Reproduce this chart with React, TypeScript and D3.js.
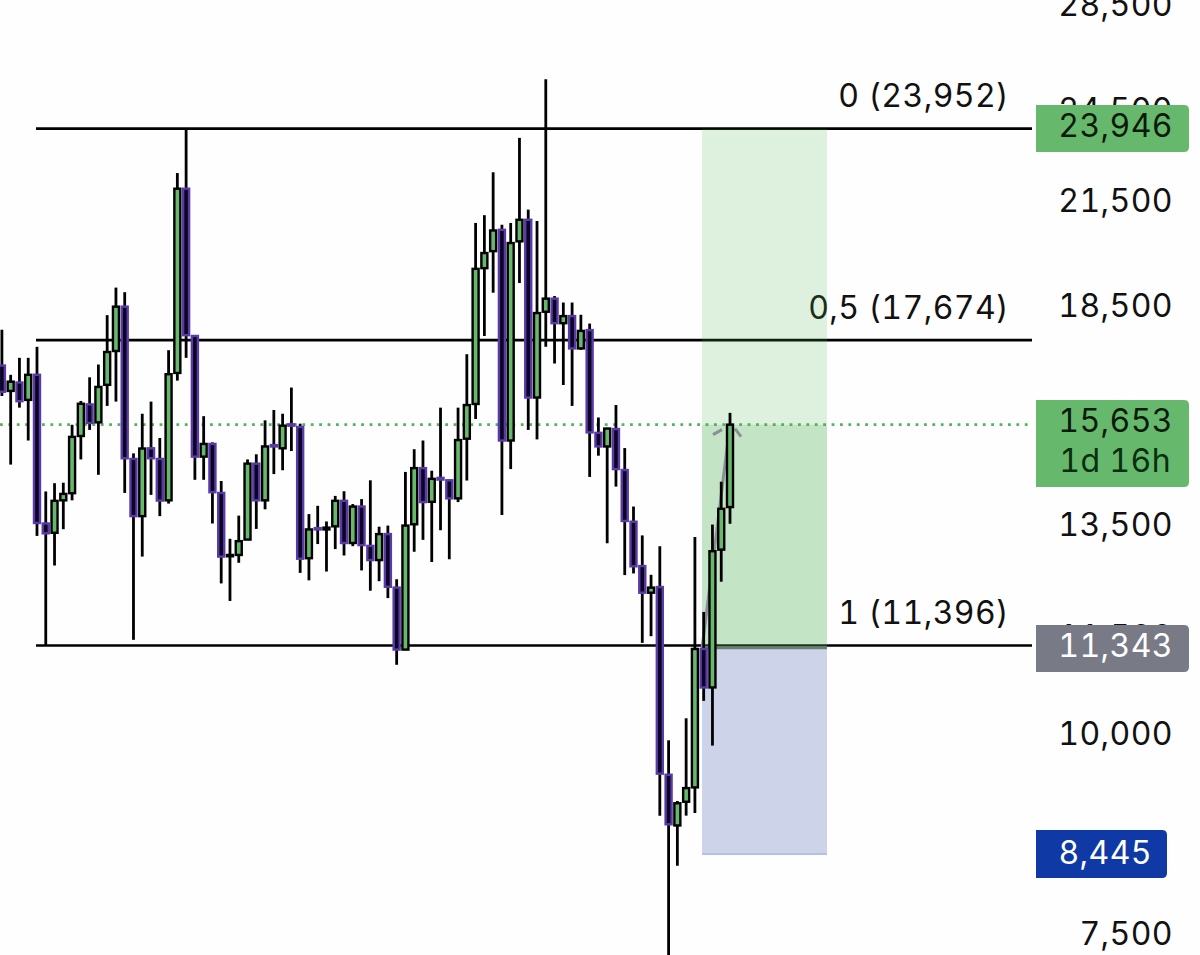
import React from "react";
import * as d3 from "d3";

const highs = [17940,16815,17230,17230,17505,14220,14390,14400,15650,16195,16755,17065,18320,19060,18934,15020,15900,16180,15355,17420,22470,23950,17780,15845,15260,14435,13285,13735,14890,15000,15750,15985,15900,16510,15675,13765,13930,13620,14130,14225,13965,14065,14450,13518,13540,12535,14625,15110,15300,14650,16040,14465,16040,17320,20915,21150,22495,20860,20915,23635,21320,20975,25710,18830,18655,18655,18330,18100,15815,15585,16100,15135,13915,13350,12615,13145,9945,9115,10265,13320,11960,13560,14420,15920];
const bodyTops = [17040,16650,16630,16815,16815,13580,14030,14170,15380,16130,16115,16525,17375,18545,18545,14900,15125,15130,14900,16830,21970,21970,17780,15225,15225,14190,12980,13240,14800,14800,15170,15200,15630,15660,15600,13465,13490,13500,14030,14030,13915,13915,13150,13375,13375,12385,13540,14705,14705,14480,14500,14450,15310,16100,19580,20030,20690,20710,20320,21010,21010,18375,18760,18760,18295,18295,17910,17930,15470,15565,15555,14665,13615,12775,12385,12395,9465,9085,9285,11340,11340,13050,13870,15653];
const bodyBottoms = [16410,16430,16190,16220,13590,13390,13400,14040,14185,15400,15690,15705,16575,17400,14915,13725,13725,14915,14035,14040,16860,17800,14950,14950,14205,12950,12955,12980,13270,14040,14040,15170,15130,15630,12910,12920,13465,13465,13525,13205,13205,13165,12885,12885,12400,11330,11330,13565,14005,14010,14465,14080,14080,15340,16125,19600,20085,15300,15300,20370,16275,16275,18410,18110,18110,17465,17465,15480,15170,15170,14685,13630,12770,12295,12295,9480,8815,8800,9105,9295,10730,10730,13080,13905];
const lows = [16310,14780,16040,15300,13340,11390,12785,13470,14040,14890,15535,14565,16080,16180,14190,11490,12950,14150,13725,13975,16675,17230,14460,14460,13580,12460,12150,12835,13265,13475,13860,14580,14660,15070,12650,12515,13185,12675,13090,12970,13145,12695,12330,12500,12200,11085,11320,13040,13265,12850,13450,12900,14005,14445,15780,17780,18920,13745,14685,19185,15535,15325,17505,17090,16570,16080,17430,14520,14970,13200,14320,12610,12640,11440,11550,8925,7250,8305,8925,8960,10525,9870,12490,13575];
const falling = [
  1,0,1,0,1,1,0,0,0,0,
  1,0,0,0,1,1,0,1,1,0,
  0,1,1,0,1,1,0,0,0,1,
  0,1,0,1,1,0,1,0,0,1,
  0,1,1,0,1,1,0,0,1,0,
  1,1,0,0,0,0,0,1,0,0,
  1,0,0,1,0,1,0,1,1,0,
  1,1,1,1,0,1,1,0,0,0,
  1,0,0,0,
];

const axisTicks = [28500, 24500, 21500, 18500, 13500, 11500, 10000, 7500];
const fibNames = ["0", "0,5", "1"];
const fibValues = [23952, 17674, 11396];
const lastPrice = 15653;
const countdown = "1d 16h";
const targetPrice = 23946;
const entryPrice = 11343;
const stopPrice = 8445;

const W = 1200;
const H = 955;
const FONT = "Inter, 'Noto Sans', sans-serif";

const y = d3.scaleLog().domain([7500, 28500]).range([936.7, 7.6]);
const x = d3.scaleLinear().domain([0, 83]).range([1.9, 730]);
const fmt = d3.format(",");

const GREEN = "#66b96c";
const PURPLE = "#5a3aa8";
const LINE_END = 1032;
const SPACING = 0.4;
const TEXT_STYLE = { fontVariantNumeric: "tabular-nums", fontFeatureSettings: '"tnum"' };

function PriceBox({ x0, x1, y0, y1, fill }: { x0: number; x1: number; y0: number; y1: number; fill: string }) {
  const r = 5;
  const d = `M${x0},${y0}H${x1 - r}Q${x1},${y0} ${x1},${y0 + r}V${y1 - r}Q${x1},${y1} ${x1 - r},${y1}H${x0}Z`;
  return <path d={d} fill={fill} />;
}

export default function App() {
  const arrow = d3.line()([
    [702, y(entryPrice)],
    [x(83), y(lastPrice)],
  ]) as string;
  const tipX = x(83);
  const tipY = y(lastPrice);
  return (
    <svg
      width={W}
      height={H}
      viewBox={`0 0 ${W} ${H}`}
      style={{ position: "absolute", left: 0, top: 0, display: "block", background: "#fefefe" }}
      fontFamily={FONT}
      fontSize={32}
    >
      <g fill="#111" textAnchor="end" letterSpacing={SPACING} style={TEXT_STYLE}>
        {axisTicks.map((t) => (
          <text key={t} x={1173} y={y(t) + 8.3}>
            {fmt(t)}
          </text>
        ))}
      </g>

      {fibValues.map((v, i) => (
        <g key={fibNames[i]}>
          <line x1={36} x2={LINE_END} y1={y(v)} y2={y(v)} stroke="#000" strokeWidth={2.6} />
          <text x={1009} y={y(v) - 21.5} textAnchor="end" fill="#111" letterSpacing={SPACING} style={TEXT_STYLE}>
            {`${fibNames[i]} (${fmt(v)})`}
          </text>
        </g>
      ))}

      <line
        x1={0}
        x2={LINE_END}
        y1={y(lastPrice)}
        y2={y(lastPrice)}
        stroke="#55b25d"
        strokeWidth={2.8}
        strokeDasharray="2.8 5.6"
      />

      <rect x={702} width={125} y={y(targetPrice)} height={y(lastPrice) - y(targetPrice)} fill="rgb(76,175,80)" fillOpacity={0.18} />
      <rect x={702} width={125} y={y(lastPrice)} height={y(entryPrice) - y(lastPrice)} fill="rgb(76,175,80)" fillOpacity={0.32} />
      <rect x={702} width={125} y={y(entryPrice)} height={y(stopPrice) - y(entryPrice)} fill="rgb(10,45,150)" fillOpacity={0.2} />
      <line x1={702} x2={827} y1={y(stopPrice)} y2={y(stopPrice)} stroke="#b4c1e2" strokeWidth={2} />
      <line x1={702} x2={827} y1={y(entryPrice) - 1} y2={y(entryPrice) - 1} stroke="#6b7c72" strokeWidth={3} />

      <g stroke="#8a8e99" strokeWidth={3} fill="none">
        <path d={arrow} />
        <path d={`M${tipX - 17},${tipY + 10}L${tipX - 8},${tipY + 5}M${tipX + 5},${tipY + 4}L${tipX + 11},${tipY + 12}`} />
      </g>

      <g>
        {highs.map((h, i) => {
          const bear = falling[i] === 1;
          const cx = x(i);
          const top = y(bodyTops[i]);
          const bottom = y(bodyBottoms[i]);
          return (
            <g key={i}>
              <line x1={cx} x2={cx} y1={y(h)} y2={y(lows[i])} stroke="#000" strokeWidth={2.8} />
              <rect
                x={cx - 3}
                width={6}
                y={top}
                height={bottom - top}
                fill={bear ? "#0b0620" : GREEN}
                stroke={bear ? PURPLE : "#000"}
                strokeWidth={2.4}
              />
            </g>
          );
        })}
      </g>

      <PriceBox x0={1036} x1={1189} y0={105} y1={152} fill={GREEN} />
      <PriceBox x0={1036} x1={1189} y0={400} y1={487} fill={GREEN} />
      <PriceBox x0={1036} x1={1189} y0={625} y1={672} fill="#787b86" />
      <PriceBox x0={1036} x1={1167} y0={830} y1={878} fill="#0f3aa5" />

      <g textAnchor="end" letterSpacing={SPACING} style={TEXT_STYLE}>
        <text x={1173} y={137} fill="#0c1a0c">{fmt(targetPrice)}</text>
        <text x={1173} y={432} fill="#0c1a0c">{fmt(lastPrice)}</text>
        <text x={1171} y={472} fill="#0a2e10">{countdown}</text>
        <text x={1173} y={657} fill="#fff">{fmt(entryPrice)}</text>
        <text x={1152} y={864} fill="#fff">{fmt(stopPrice)}</text>
      </g>
    </svg>
  );
}
